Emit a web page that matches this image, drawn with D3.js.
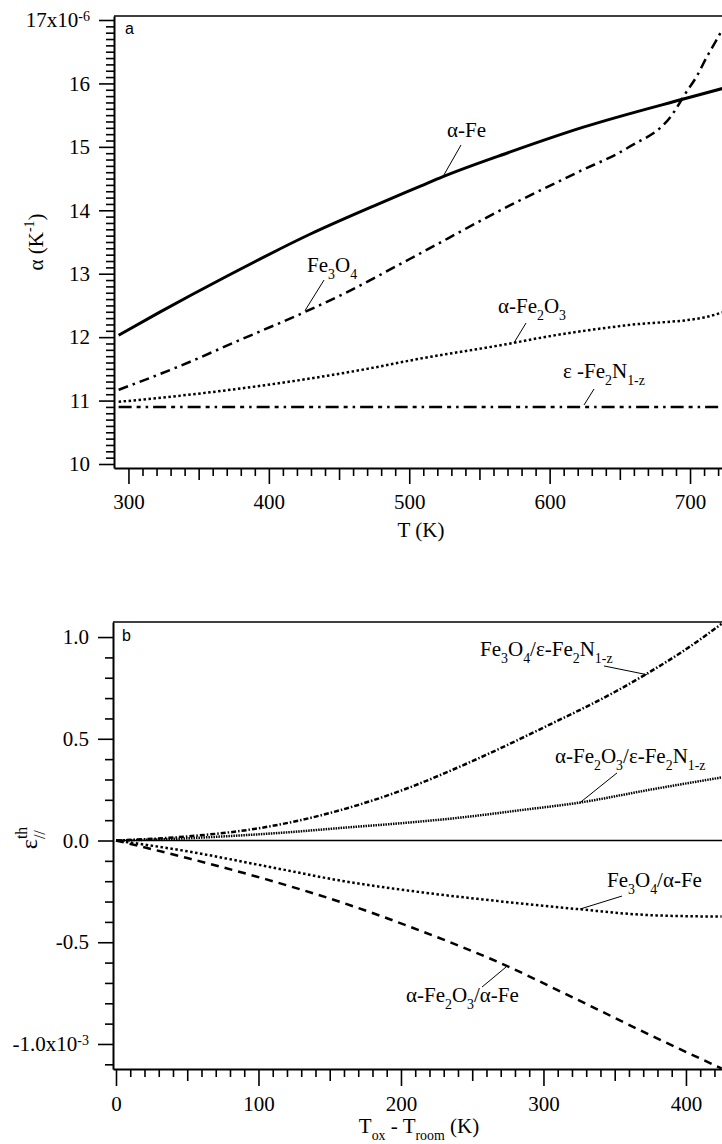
<!DOCTYPE html>
<html><head><meta charset="utf-8">
<script src="https://cdn.jsdelivr.net/npm/d3@7"></script>
<style>
body{margin:0;background:#fff} svg{display:block}
svg text, svg tspan { font-family: "Liberation Serif", "Tinos", "Nimbus Roman", "DejaVu Serif", serif !important; }
svg text.letter { font-family: "Liberation Sans", Arial, sans-serif !important; }
</style>
</head><body><svg id="c" width="722" height="1144"></svg>
<script>
// ---------- Panel a data: thermal expansion coefficient (x1e-6 /K) vs T (K)
const aFeT      = [293, 322, 370, 430, 477, 508, 524, 572, 624, 698, 723];
const aFeVal    = [12.03, 12.39, 12.96, 13.63, 14.09, 14.38, 14.53, 14.92, 15.31, 15.77, 15.92];
const fe3o4T    = [293, 335, 382, 425, 453, 501, 572, 620, 656, 687, 697, 705, 712, 718, 723];
const fe3o4Val  = [11.17, 11.53, 11.98, 12.39, 12.68, 13.24, 14.08, 14.60, 14.99, 15.50, 15.85, 16.12, 16.42, 16.65, 16.85];
const fe2o3T    = [293, 358, 430, 470, 505, 572, 596, 656, 710, 723];
const fe2o3Val  = [10.98, 11.13, 11.35, 11.50, 11.65, 11.90, 12.00, 12.19, 12.31, 12.39];
const fe2nT     = [293, 400, 500, 600, 700, 723];
const fe2nVal   = [10.9, 10.9, 10.9, 10.9, 10.9, 10.9];
const aXTicks   = [300, 400, 500, 600, 700];
const aYTicks   = [10, 11, 12, 13, 14, 15, 16, 17];

// ---------- Panel b data: thermal strain (x1e-3) vs Tox - Troom (K)
const bFe3o4NT  = [0, 50, 100, 150, 200, 250, 300, 350, 375, 400, 425];
const bFe3o4N   = [0, 0.02, 0.06, 0.135, 0.245, 0.39, 0.555, 0.73, 0.83, 0.94, 1.065];
const bFe2o3NT  = [0, 40, 80, 120, 160, 200, 242, 285, 325, 375, 425];
const bFe2o3N   = [0, 0.008, 0.022, 0.04, 0.063, 0.085, 0.113, 0.15, 0.186, 0.25, 0.31];
const bFe3o4FT  = [0, 50, 105, 160, 215, 270, 324, 363, 379, 425];
const bFe3o4F   = [0, -0.053, -0.126, -0.20, -0.255, -0.299, -0.337, -0.362, -0.368, -0.374];
const bFe2o3FT  = [0, 50, 105, 160, 215, 270, 324, 379, 425];
const bFe2o3F   = [0, -0.086, -0.19, -0.308, -0.447, -0.603, -0.783, -0.97, -1.12];
const bXTicks   = [0, 100, 200, 300, 400];
const bYTicks   = [-1.0, -0.5, 0.0, 0.5, 1.0];

const SERIF = "Liberation Serif";
const FS = 21;
const svg = d3.select("#c");

function rich(parent, x, y, parts, opts = {}) {
  const fs = opts.size || FS;
  const t = parent.append("text").attr("x", x).attr("y", y)
    .attr("font-family", SERIF).attr("font-size", fs).attr("fill", "#000")
    .attr("text-anchor", opts.anchor || "start");
  if (opts.transform) t.attr("transform", opts.transform);
  let shift = 0, prev = null;
  parts.forEach(p => {
    const [s, k, back] = p;
    const target = k === "sub" ? 0.32 * fs : k === "sup" ? -0.42 * fs : 0;
    const ts = t.append("tspan").attr("dy", target - shift)
      .attr("font-size", k ? fs * 0.66 : fs).text(s);
    if (back && prev) ts.attr("dx", -prev.node().getComputedTextLength());
    shift = target; prev = ts;
  });
  return t;
}

function panel(cfg) {
  const g = svg.append("g");
  const x = d3.scaleLinear().domain(cfg.xd).range(cfg.xr);
  const y = d3.scaleLinear().domain(cfg.yd).range(cfg.yr);
  const [L, R] = cfg.xr, [B, T] = cfg.yr;
  const clipId = "clip" + cfg.id;
  svg.append("clipPath").attr("id", clipId).append("rect")
    .attr("x", L).attr("y", T).attr("width", R - L).attr("height", B - T);

  g.append("line").attr("x1", L).attr("x2", R).attr("y1", T).attr("y2", T)
    .attr("stroke", "#000").attr("stroke-width", 1.5);

  const styleAxis = a => { a.attr("font-family", null).attr("font-size", null);
    a.selectAll("line").attr("stroke", "#000").attr("stroke-width", 1.6);
    a.select(".domain").attr("stroke", "#000").attr("stroke-width", 2);
    a.selectAll("text").attr("font-family", SERIF).attr("font-size", FS).attr("fill", "#000"); };

  const ym = g.append("g").attr("transform", `translate(${L},0)`)
    .call(d3.axisLeft(y).tickValues(cfg.yMinor).tickSize(8).tickSizeOuter(0).tickFormat(""));
  styleAxis(ym);
  const yM = g.append("g").attr("transform", `translate(${L},0)`)
    .call(d3.axisLeft(y).tickValues(cfg.yMajor).tickSize(15).tickSizeOuter(0).tickPadding(9).tickFormat(cfg.yFmt));
  styleAxis(yM); yM.select(".domain").remove();
  yM.selectAll(".tick text").filter(d => d === cfg.supTick).each(function() {
    d3.select(this).append("tspan").attr("dy", "-0.45em").attr("font-size", 14).text(cfg.supText);
  });

  const xm = g.append("g").attr("transform", `translate(0,${B})`)
    .call(d3.axisBottom(x).tickValues(cfg.xMinor).tickSize(8).tickSizeOuter(0).tickFormat(""));
  styleAxis(xm);
  const xmed = g.append("g").attr("transform", `translate(0,${B})`)
    .call(d3.axisBottom(x).tickValues(cfg.xMed).tickSize(12).tickSizeOuter(0).tickFormat(""));
  styleAxis(xmed); xmed.select(".domain").remove();
  const xM = g.append("g").attr("transform", `translate(0,${B})`)
    .call(d3.axisBottom(x).tickValues(cfg.xMajor).tickSize(cfg.xMajorLen).tickSizeOuter(0).tickPadding(cfg.xPad).tickFormat(d3.format("d")));
  styleAxis(xM); xM.select(".domain").remove();

  const plot = g.append("g").attr("clip-path", `url(#${clipId})`);
  if (cfg.zero) plot.append("line").attr("x1", x(0)).attr("x2", R).attr("y1", y(0)).attr("y2", y(0))
    .attr("stroke", "#000").attr("stroke-width", 1.5);

  const line = d3.line().x(d => x(d[0])).y(d => y(d[1])).curve(d3.curveMonotoneX);
  cfg.series.forEach(s => {
    plot.append("path").datum(d3.zip(s.t, s.v)).attr("d", line)
      .attr("fill", "none").attr("stroke", "#000").attr("stroke-width", s.w)
      .attr("stroke-dasharray", s.dash || null);
  });

  cfg.labels.forEach(l => {
    g.append("line").attr("x1", x(l.from[0])).attr("y1", y(l.from[1]))
      .attr("x2", x(l.to[0])).attr("y2", y(l.to[1])).attr("stroke", "#000").attr("stroke-width", 1);
    rich(g, x(l.at[0]), y(l.at[1]), l.parts);
  });

  g.append("text").attr("class", "letter").attr("x", L + cfg.letterDx).attr("y", T + cfg.letterDy)
    .attr("font-size", 16).text(cfg.letter);
  return {x, y, g};
}

// ---------- Panel a
panel({
  id: "a", xd: [289.7, 724.2], xr: [114, 724], yd: [9.937, 17.063], yr: [468, 16],
  yMajor: aYTicks, yMinor: d3.range(100, 171).filter(d => d % 10).map(d => d / 10),
  yFmt: d => d === 17 ? "17x10" : String(d), supTick: 17, supText: "-6",
  xMajor: aXTicks, xMed: [350, 450, 550, 650], xMinor: d3.range(300, 721, 10).filter(d => d % 50),
  xMajorLen: 16, xPad: 10, letter: "a", letterDx: 11, letterDy: 18,
  series: [
    {t: aFeT, v: aFeVal, w: 3},
    {t: fe3o4T, v: fe3o4Val, w: 2.5, dash: "10,5,2.5,5"},
    {t: fe2o3T, v: fe2o3Val, w: 2.5, dash: "2.5,2.5"},
    {t: fe2nT, v: fe2nVal, w: 2.5, dash: "13,5,4,5,2.5,5"}
  ],
  labels: [
    {at: [526.9, 15.155], from: [536.9, 15.03], to: [524.0, 14.53], parts: [["α-Fe"]]},
    {at: [427.2, 13.027], from: [439.3, 12.90], to: [425.8, 12.42], parts: [["Fe"], ["3", "sub"], ["O"], ["4", "sub"]]},
    {at: [563.2, 12.381], from: [583.2, 12.223], to: [574.6, 11.91], parts: [["α-Fe"], ["2", "sub"], ["O"], ["3", "sub"]]},
    {at: [609.5, 11.356], from: [631.6, 11.182], to: [624.5, 10.93], parts: [["ε -Fe"], ["2", "sub"], ["N"], ["1-z", "sub"]]}
  ]
});
rich(svg, 421, 537, [["T (K)"]], {anchor: "middle"});
rich(svg, 0, 0, [["α (K"], ["-1", "sup"], [")"]], {anchor: "middle", transform: "translate(43,242) rotate(-90)"});

// ---------- Panel b
panel({
  id: "b", xd: [-2.1, 427.4], xr: [113, 725], yd: [-1.123, 1.074], yr: [1069, 622],
  yMajor: bYTicks, yMinor: d3.range(-11, 11).filter(d => d % 5).map(d => d / 10),
  yFmt: d => d === -1 ? "-1.0x10" : d3.format(".1f")(d).replace("−", "-"), supTick: -1, supText: "-3",
  xMajor: bXTicks, xMed: [50, 150, 250, 350], xMinor: d3.range(0, 421, 10).filter(d => d % 50),
  xMajorLen: 17, xPad: 10.5, letter: "b", letterDx: 9, letterDy: 19, zero: true,
  series: [
    {t: bFe3o4NT, v: bFe3o4N, w: 2.5, dash: "5,2,1.5,2"},
    {t: bFe2o3NT, v: bFe2o3N, w: 2.5, dash: "1.5,1"},
    {t: bFe3o4FT, v: bFe3o4F, w: 2.5, dash: "2.5,2.5"},
    {t: bFe2o3FT, v: bFe2o3F, w: 2.5, dash: "8,6"}
  ],
  labels: [
    {at: [255.5, 0.907], from: [342.5, 0.858], to: [372.7, 0.815],
     parts: [["Fe"], ["3", "sub"], ["O"], ["4", "sub"], ["/ε-Fe"], ["2", "sub"], ["N"], ["1-z", "sub"]]},
    {at: [308.1, 0.381], from: [351.6, 0.332], to: [325.6, 0.186],
     parts: [["α-Fe"], ["2", "sub"], ["O"], ["3", "sub"], ["/ε-Fe"], ["2", "sub"], ["N"], ["1-z", "sub"]]},
    {at: [344.6, -0.228], from: [355.1, -0.273], to: [325.6, -0.337],
     parts: [["Fe"], ["3", "sub"], ["O"], ["4", "sub"], ["/α-Fe"]]},
    {at: [203.5, -0.794], from: [256.9, -0.72], to: [273.7, -0.622],
     parts: [["α-Fe"], ["2", "sub"], ["O"], ["3", "sub"], ["/α-Fe"]]}
  ]
});
rich(svg, 419, 1133, [["T"], ["ox", "sub"], [" - T"], ["room", "sub"], [" (K)"]], {anchor: "middle"});
rich(svg, 0, 0, [["ε"], ["th", "sup"], ["//", "sub", true]], {anchor: "middle", size: 24, transform: "translate(37,838) rotate(-90)"});
</script></body></html>
